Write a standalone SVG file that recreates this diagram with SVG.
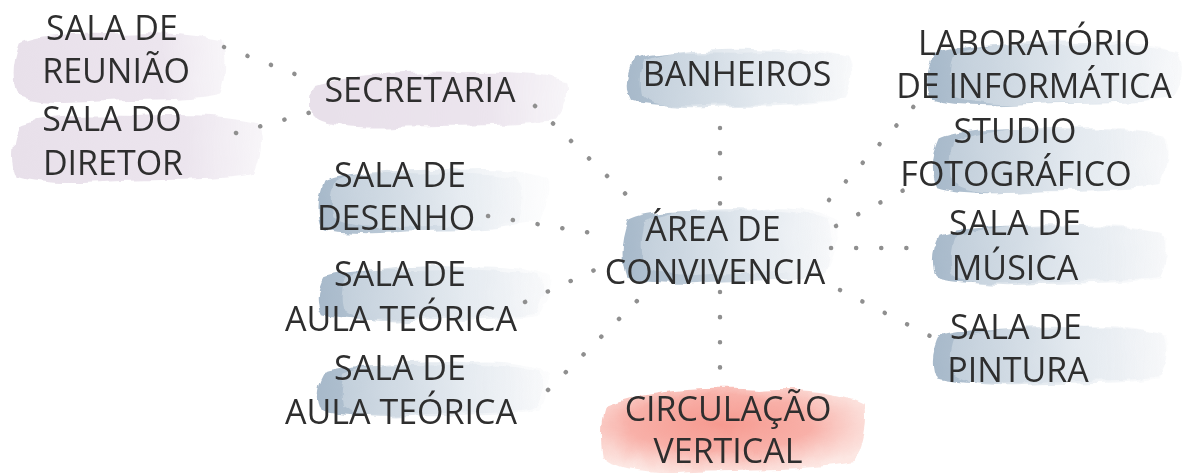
<svg xmlns="http://www.w3.org/2000/svg" xmlns:xlink="http://www.w3.org/1999/xlink" width="1188" height="475" viewBox="0 0 1188 475">
<style>
  text { font-family: "Open Sans", "Noto Sans", "DejaVu Sans", sans-serif; font-size: 34px; fill: #2e2e2e; text-anchor: middle; }
  .conn line { stroke: #8f8f8f; stroke-width: 4.5; stroke-linecap: round; stroke-dasharray: 0.1 25; fill: none; }
  .blob { filter: url(#rough); }
</style>
<defs>
  <linearGradient id="blue" x1="0" y1="0" x2="1" y2="0">
    <stop offset="0" stop-color="#a7b9ca"/>
    <stop offset="0.35" stop-color="#bccad7"/>
    <stop offset="0.7" stop-color="#dfe6ed"/>
    <stop offset="1" stop-color="#f2f4f7" stop-opacity="0.5"/>
  </linearGradient>
  <linearGradient id="blue2" x1="0" y1="0" x2="1" y2="0">
    <stop offset="0" stop-color="#c7d3de" stop-opacity="0.8"/>
    <stop offset="0.6" stop-color="#e8edf2" stop-opacity="0.8"/>
    <stop offset="1" stop-color="#f6f7f9" stop-opacity="0.3"/>
  </linearGradient>
  <linearGradient id="lav" x1="0" y1="0" x2="1" y2="0">
    <stop offset="0" stop-color="#e8e0ea"/>
    <stop offset="0.7" stop-color="#ece5ee"/>
    <stop offset="1" stop-color="#f2eef4" stop-opacity="0.6"/>
  </linearGradient>
  <radialGradient id="red" cx="0.45" cy="0.42" r="0.62">
    <stop offset="0" stop-color="#f69a90"/>
    <stop offset="0.55" stop-color="#f8b0a8"/>
    <stop offset="1" stop-color="#fbdcd6" stop-opacity="0.7"/>
  </radialGradient>
  <filter id="rough" x="-10%" y="-20%" width="120%" height="140%">
    <feTurbulence type="fractalNoise" baseFrequency="0.045" numOctaves="3" seed="4"/>
    <feDisplacementMap in="SourceGraphic" scale="9" xChannelSelector="R" yChannelSelector="G"/>
  </filter>
  <path id="bl" d="M4,20 C12,8 30,6 50,8 C70,4 88,9 97,16 C100,36 99,62 96,84 C80,95 56,90 36,95 C20,98 8,94 3,88 C0,66 1,42 4,20 Z"/>
  <path id="bl2" d="M2,30 C15,15 40,10 60,14 C78,10 92,18 99,28 C100,50 98,70 95,86 C75,96 50,92 30,96 C15,97 5,92 1,80 C0,62 0,46 2,30 Z"/>
</defs>

<g id="blobs">
  <g class="blob">
    <use xlink:href="#bl" transform="translate(10,28) scale(2.18,0.78)" fill="url(#lav)"/>
    <use xlink:href="#bl" transform="translate(10,110) scale(2.55,0.76)" fill="url(#lav)"/>
    <use xlink:href="#bl2" transform="translate(310,64) scale(2.6,0.66)" fill="url(#lav)"/>
    <use xlink:href="#bl" transform="translate(315,168) scale(2.1,0.68)" fill="url(#blue)"/>
    <use xlink:href="#bl2" transform="translate(330,160) scale(2.2,0.7)" fill="url(#blue2)"/>
    <use xlink:href="#bl" transform="translate(315,266) scale(2.3,0.56)" fill="url(#blue)"/>
    <use xlink:href="#bl2" transform="translate(340,258) scale(2.1,0.66)" fill="url(#blue2)"/>
    <use xlink:href="#bl" transform="translate(315,362) scale(2.3,0.56)" fill="url(#blue)"/>
    <use xlink:href="#bl2" transform="translate(340,354) scale(2.1,0.66)" fill="url(#blue2)"/>
    <use xlink:href="#bl" transform="translate(625,48) scale(2.3,0.6)" fill="url(#blue)"/>
    <use xlink:href="#bl2" transform="translate(640,40) scale(2.1,0.7)" fill="url(#blue2)"/>
    <use xlink:href="#bl" transform="translate(620,205) scale(2.15,0.82)" fill="url(#blue)"/>
    <use xlink:href="#bl2" transform="translate(640,198) scale(2.0,0.8)" fill="url(#blue2)"/>
    <use xlink:href="#bl2" transform="translate(600,376) scale(2.67,1.0)" fill="url(#red)"/>
    <use xlink:href="#bl" transform="translate(925,40) scale(2.6,0.68)" fill="url(#blue)"/>
    <use xlink:href="#bl2" transform="translate(950,32) scale(2.3,0.75)" fill="url(#blue2)"/>
    <use xlink:href="#bl" transform="translate(930,124) scale(2.4,0.72)" fill="url(#blue)"/>
    <use xlink:href="#bl2" transform="translate(950,118) scale(2.2,0.78)" fill="url(#blue2)"/>
    <use xlink:href="#bl" transform="translate(930,222) scale(2.4,0.64)" fill="url(#blue)"/>
    <use xlink:href="#bl2" transform="translate(950,216) scale(2.2,0.72)" fill="url(#blue2)"/>
    <use xlink:href="#bl" transform="translate(930,324) scale(2.4,0.62)" fill="url(#blue)"/>
    <use xlink:href="#bl2" transform="translate(950,318) scale(2.2,0.70)" fill="url(#blue2)"/>
  </g>
</g>

<g id="connectors" class="conn">
  <line x1="224" y1="47" x2="300" y2="76"/>
  <line x1="236" y1="133" x2="312" y2="112"/>
  <line x1="535" y1="106" x2="640" y2="208"/>
  <line x1="488" y1="216" x2="598" y2="234"/>
  <line x1="525" y1="302" x2="612" y2="262"/>
  <line x1="548" y1="390" x2="638" y2="300"/>
  <line x1="720" y1="128" x2="720" y2="210"/>
  <line x1="720" y1="292" x2="720" y2="372"/>
  <line x1="829" y1="200" x2="915" y2="105"/>
  <line x1="836" y1="226" x2="904" y2="190"/>
  <line x1="831" y1="248" x2="908" y2="248"/>
  <line x1="840" y1="290" x2="932" y2="337"/>
</g>

<g id="node-reuniao"><text x="112" y="40">SALA DE</text><text x="116" y="83">REUNIÃO</text></g>
<g id="node-diretor"><text x="112" y="131">SALA DO</text><text x="113" y="175">DIRETOR</text></g>
<g id="node-secretaria"><text x="420" y="102">SECRETARIA</text></g>
<g id="node-desenho"><text x="400" y="187">SALA DE</text><text x="396" y="230">DESENHO</text></g>
<g id="node-aula1"><text x="400" y="286">SALA DE</text><text x="401" y="331">AULA TEÓRICA</text></g>
<g id="node-aula2"><text x="400" y="380">SALA DE</text><text x="401" y="424">AULA TEÓRICA</text></g>
<g id="node-banheiros"><text x="737" y="86">BANHEIROS</text></g>
<g id="node-area"><text x="713" y="241">ÁREA DE</text><text x="715" y="284">CONVIVENCIA</text></g>
<g id="node-circulacao"><text x="728" y="421">CIRCULAÇÃO</text><text x="728" y="463">VERTICAL</text></g>
<g id="node-lab"><text x="1034" y="55">LABORATÓRIO</text><text x="1034" y="98">DE INFORMÁTICA</text></g>
<g id="node-studio"><text x="1015" y="143">STUDIO</text><text x="1016" y="186">FOTOGRÁFICO</text></g>
<g id="node-musica"><text x="1015" y="235">SALA DE</text><text x="1015" y="280">MÚSICA</text></g>
<g id="node-pintura"><text x="1016" y="339">SALA DE</text><text x="1018" y="382">PINTURA</text></g>
</svg>
